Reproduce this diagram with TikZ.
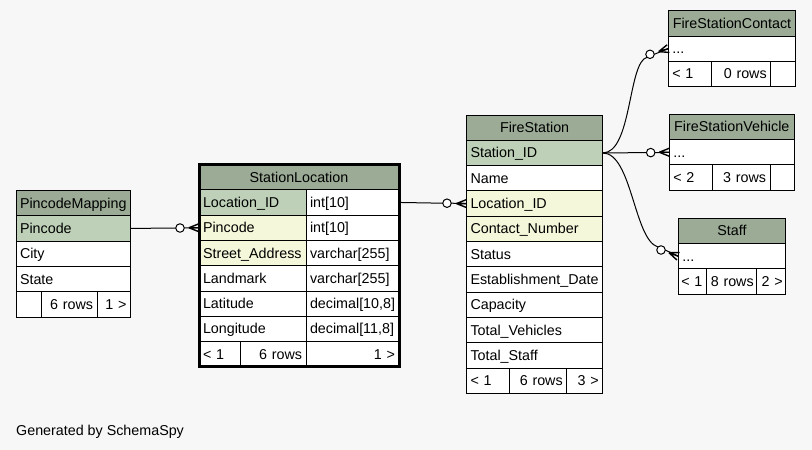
\documentclass[tikz,border=0pt]{standalone}
\usepackage{fontspec}
\setmainfont{Liberation Sans}
\usetikzlibrary{positioning}
\definecolor{HeadClr}{HTML}{9BAB96}
\definecolor{KeyClr}{HTML}{BED1B8}
\definecolor{IdxClr}{HTML}{F4F7DA}
\definecolor{BackClr}{HTML}{F7F7F7}
\newcommand{\tabfont}{\fontsize{14.3}{16}\selectfont}
\newcommand{\crowfoot}[2]{%
  \begin{scope}[shift={(#1)},rotate=#2]
    \draw[link,line width=1.4pt] (-10,0) -- (0,-4) (-10,0) -- (0,0) (-10,0) -- (0,4);
  \end{scope}}
\tikzset{
  cell/.style={draw=black,line width=1pt,fill=white,outer sep=0pt,inner xsep=4pt,inner ysep=0pt,
    minimum height=25.3pt,text height=10pt,text depth=0pt,anchor=north west,align=left,font=\tabfont},
  head/.style={cell,fill=HeadClr,align=center},
  pk/.style={cell,fill=KeyClr},
  idx/.style={cell,fill=IdxClr},
  num/.style={cell,align=right},
  link/.style={line width=1pt},
  ring/.style={circle,draw=black,line width=1pt,fill=white,minimum size=8.5pt,inner sep=0pt,outer sep=0pt}
}

\begin{document}
\begin{tikzpicture}[x=1pt,y=-1pt]
\fill[BackClr] (0,0) rectangle (812,450);
\useasboundingbox (0,0) rectangle (812,450);

\node[head,text width=106.5pt] (pmHead) at (16,190.5) {PincodeMapping};
\node[pk,text width=106.5pt] (pmPin) at (pmHead.south west) {Pincode};
\node[cell,text width=106.5pt] (pmCity) at (pmPin.south west) {City};
\node[cell,text width=106.5pt] (pmState) at (pmCity.south west) {State};
\node[cell,text width=17pt] (pmFoot1) at (pmState.south west) {};
\node[num,text width=48pt] (pmFoot2) at (pmFoot1.north east) {6 rows};
\node[num,text width=25.5pt] (pmFoot3) at (pmFoot2.north east) {1 >};

\node[head,text width=192pt] (slHead) at (199,164.5) {StationLocation};
\node[pk,text width=99pt] (slLoc) at (slHead.south west) {Location\_ID};
\node[cell,text width=85pt] (slLocT) at (slLoc.north east) {int[10]};
\node[idx,text width=99pt] (slPin) at (slLoc.south west) {Pincode};
\node[cell,text width=85pt] (slPinT) at (slPin.north east) {int[10]};
\node[idx,text width=99pt] (slStreet) at (slPin.south west) {Street\_Address};
\node[cell,text width=85pt] (slStreetT) at (slStreet.north east) {varchar[255]};
\node[cell,text width=99pt] (slMark) at (slStreet.south west) {Landmark};
\node[cell,text width=85pt] (slMarkT) at (slMark.north east) {varchar[255]};
\node[cell,text width=99pt] (slLat) at (slMark.south west) {Latitude};
\node[cell,text width=85pt] (slLatT) at (slLat.north east) {decimal[10,8]};
\node[cell,text width=99pt] (slLon) at (slLat.south west) {Longitude};
\node[cell,text width=85pt] (slLonT) at (slLon.north east) {decimal[11,8]};
\node[cell,text width=33.7pt] (slFoot1) at (slLon.south west) {< 1};
\node[num,text width=57.3pt] (slFoot2) at (slFoot1.north east) {6 rows};
\node[num,text width=85pt] (slFoot3) at (slFoot2.north east) {1 >};
\draw[line width=3pt] (slHead.north west) rectangle (slFoot3.south east);

\node[head,text width=128.2pt] (fsHead) at (466.5,115) {FireStation};
\node[pk,text width=128.2pt] (fsId) at (fsHead.south west) {Station\_ID};
\node[cell,text width=128.2pt] (fsName) at (fsId.south west) {Name};
\node[idx,text width=128.2pt] (fsLoc) at (fsName.south west) {Location\_ID};
\node[idx,text width=128.2pt] (fsContact) at (fsLoc.south west) {Contact\_Number};
\node[cell,text width=128.2pt] (fsStatus) at (fsContact.south west) {Status};
\node[cell,text width=128.2pt] (fsDate) at (fsStatus.south west) {Establishment\_Date};
\node[cell,text width=128.2pt] (fsCap) at (fsDate.south west) {Capacity};
\node[cell,text width=128.2pt] (fsVeh) at (fsCap.south west) {Total\_Vehicles};
\node[cell,text width=128.2pt] (fsStaff) at (fsVeh.south west) {Total\_Staff};
\node[cell,text width=34.8pt] (fsFoot1) at (fsStaff.south west) {< 1};
\node[num,text width=49.4pt] (fsFoot2) at (fsFoot1.north east) {6 rows};
\node[num,text width=28pt] (fsFoot3) at (fsFoot2.north east) {3 >};

\node[head,text width=119.4pt] (fcHead) at (668.3,10.7) {FireStationContact};
\node[cell,text width=119.4pt] (fcDots) at (fcHead.south west) {...};
\node[cell,text width=35.4pt] (fcFoot1) at (fcDots.south west) {< 1};
\node[num,text width=51pt] (fcFoot2) at (fcFoot1.north east) {0 rows};
\node[num,text width=17pt] (fcFoot3) at (fcFoot2.north east) {};

\node[head,text width=117pt] (fvHead) at (669.3,114.3) {FireStationVehicle};
\node[cell,text width=117pt] (fvDots) at (fvHead.south west) {...};
\node[cell,text width=35.4pt] (fvFoot1) at (fvDots.south west) {< 2};
\node[num,text width=49.3pt] (fvFoot2) at (fvFoot1.north east) {3 rows};
\node[num,text width=16.3pt] (fvFoot3) at (fvFoot2.north east) {};

\node[head,text width=99.4pt] (sfHead) at (678.3,218.3) {Staff};
\node[cell,text width=99.4pt] (sfDots) at (sfHead.south west) {...};
\node[cell,inner xsep=3pt,text width=22.4pt] (sfFoot1) at (sfDots.south west) {< 1};
\node[num,inner xsep=3pt,text width=44pt] (sfFoot2) at (sfFoot1.north east) {8 rows};
\node[num,inner xsep=3pt,text width=23pt] (sfFoot3) at (sfFoot2.north east) {2 >};

\node[ring] (r1) at (180,228) {};
\draw[link] (pmPin.east) -- (r1.west) (r1.east) -- (slPin.west);
\crowfoot{slPin.west}{0}

\node[ring] (r2) at (447,203.2) {};
\draw[link] (slLocT.east) -- (r2.west) (r2.east) -- (fsLoc.west);
\crowfoot{fsLoc.west}{0}

\node[ring] (r3) at (650,54.3) {};
\draw[link] (fsId.east) .. controls (632,153) and (628,62) .. (r3.south west);
\draw[link] (r3.east) -- (fcDots.west);
\crowfoot{fcDots.west}{17}

\node[ring] (r4) at (650.7,152.6) {};
\draw[link] (fsId.east) -- (r4.west) (r4.east) -- (fvDots.west);
\crowfoot{fvDots.west}{0}

\node[ring] (r5) at (661,250) {};
\draw[link] (fsId.east) .. controls (632,153) and (634,240) .. (r5.north west);
\draw[link] (r5.east) -- (sfDots.west);
\crowfoot{sfDots.west}{-21}

\node[anchor=base west,font=\tabfont,inner sep=0pt] (credit) at (16,435) {Generated by SchemaSpy};

\end{tikzpicture}
\end{document}
